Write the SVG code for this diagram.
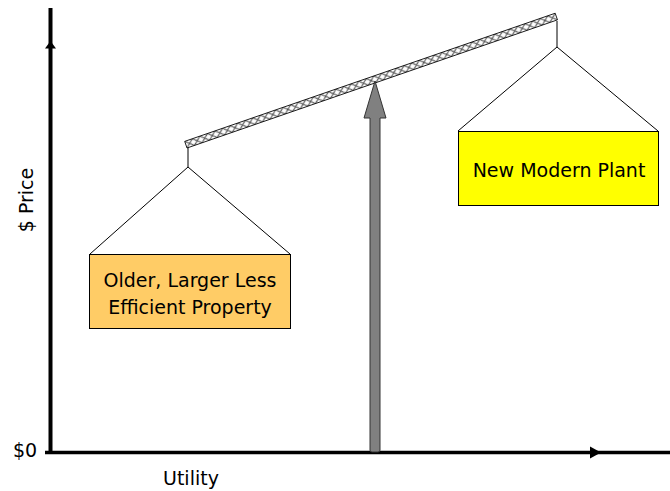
<svg xmlns="http://www.w3.org/2000/svg" width="670" height="491" viewBox="0 0 670 491">
<style>
.t{font-family:"DejaVu Sans",Verdana,sans-serif;fill:#000;font-size:19px}
.wire{stroke:#000;stroke-width:1;fill:none}
</style>
<defs>
<pattern id="hatch" width="8" height="7" patternUnits="userSpaceOnUse">
<rect width="8" height="7" fill="#fff"/>
<path d="M0,0L8,7M0,7L8,0" stroke="#555" stroke-width="1.1"/>
</pattern>
</defs>
<rect width="670" height="491" fill="#fff"/>
<g id="axes">
<line x1="50.5" y1="8" x2="50.5" y2="454" stroke="#000" stroke-width="4"/>
<polygon points="50.5,41 45,48.5 56,48.5" fill="#000"/>
<line x1="45" y1="452.5" x2="670" y2="452.5" stroke="#000" stroke-width="3.5"/>
<polygon points="601,452.5 590,446.5 590,458.5" fill="#000"/>
</g>
<g id="beam">
<g transform="translate(187,148) rotate(-19.08)">
<rect x="0" y="-7" width="392" height="7" fill="url(#hatch)" stroke="#000" stroke-width="0.8"/>
</g>
</g>
<g id="pivot">
<path d="M370,450 L370,118 L364,118 L375,81 L386,118 L380,118 L380,450 Q380,452 378,452 L372,452 Q370,452 370,450 Z" fill="#808080" stroke="#333" stroke-width="1"/>
</g>
<g id="connectors">
<polyline class="wire" points="188,148 188,167"/>
<polyline class="wire" points="90,254 188,167 290,254"/>
<polyline class="wire" points="557,21 557,47"/>
<polyline class="wire" points="458,131 557,47 658,131"/>
</g>
<g id="node-old">
<rect x="89.5" y="254.5" width="201" height="74" fill="#FFCC66" stroke="#000" stroke-width="1"/>
<text class="t" x="190" y="287" text-anchor="middle">Older, Larger Less</text>
<text class="t" x="190" y="314" text-anchor="middle">Efficient Property</text>
</g>
<g id="node-new">
<rect x="458.5" y="131.5" width="200" height="74" fill="#FFFF00" stroke="#000" stroke-width="1"/>
<text class="t" x="559" y="177" text-anchor="middle">New Modern Plant</text>
</g>
<g id="labels">
<text class="t" transform="translate(33,200) rotate(-90)" text-anchor="middle">$ Price</text>
<text class="t" x="13" y="457">$0</text>
<text class="t" x="163" y="485">Utility</text>
</g>
</svg>
